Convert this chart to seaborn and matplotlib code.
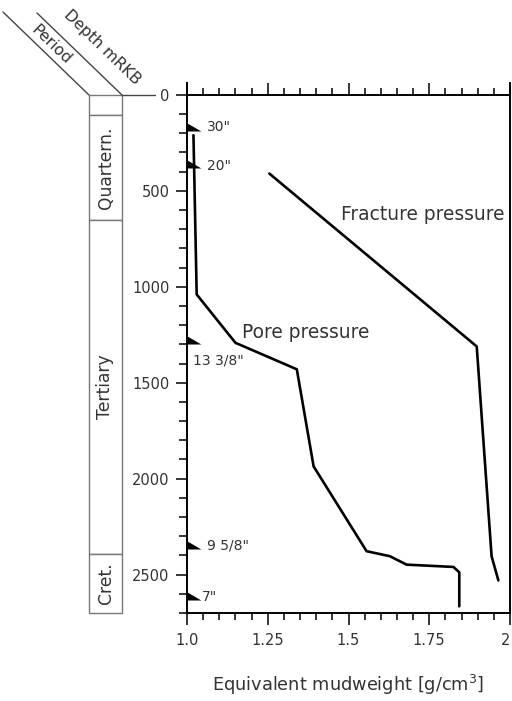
import numpy as np
import pandas as pd
import matplotlib
matplotlib.use("Agg")
import matplotlib.pyplot as plt
from matplotlib.lines import Line2D
from matplotlib.ticker import MultipleLocator, FixedLocator, FixedFormatter
import seaborn as sns

# ---- data -------------------------------------------------------------
pore_depth = [210, 1040, 1292, 1430, 1936, 2378, 2404, 2448, 2460, 2488, 2665]
pore_emw = [1.02, 1.03, 1.15, 1.34, 1.392, 1.556, 1.628, 1.68, 1.825, 1.843, 1.843]

frac_depth = [410, 1311, 2404, 2530]
frac_emw = [1.255, 1.897, 1.943, 1.964]

casing_labels = ['30"', '20"', '13 3/8"', '9 5/8"', '7"']
casing_depths = [187, 380, 1297, 2365, 2630]

period_names = ["", "Quartern.", "Tertiary", "Cret."]
period_tops = [0, 104, 651, 2390]
period_bases = [104, 651, 2390, 2700]

x_ticks = [1.0, 1.25, 1.5, 1.75, 2.0]
x_tick_labels = ["1.0", "1.25", "1.5", "1.75", "2"]
depth_ticks = [0, 500, 1000, 1500, 2000, 2500]

# ---- figure -----------------------------------------------------------
sns.set_theme(style="white")
plt.rcParams["font.family"] = ["DejaVu Sans"]
TXT = "#333333"

W, H, DPI = 512, 701, 100
fig = plt.figure(figsize=(W / DPI, H / DPI), dpi=DPI)

def fx(px):
    return px / W

def fy(py):
    return 1 - py / H

ax = fig.add_axes([fx(187), fy(613), fx(510) - fx(187), fy(83) - fy(613)])
ax.set_xlim(1.0, 2.0)
ax.set_ylim(2700, -62)

pore = pd.DataFrame({"emw": pore_emw, "depth": pore_depth})
frac = pd.DataFrame({"emw": frac_emw, "depth": frac_depth})
sns.lineplot(data=pore, x="emw", y="depth", sort=False, estimator=None,
             color="black", lw=1.9, ax=ax)
sns.lineplot(data=frac, x="emw", y="depth", sort=False, estimator=None,
             color="black", lw=1.9, ax=ax)

# casing shoes: right-angled triangles sitting on the depth axis
shoe = [(0, 0), (0, 0.58), (1, 0), (0, 0)]
shoes = pd.DataFrame({"emw": [1.0] * len(casing_depths), "depth": casing_depths})
sns.scatterplot(data=shoes, x="emw", y="depth", marker=shoe, s=400,
                color="black", linewidth=0, clip_on=False, zorder=5, ax=ax)

label_offsets = [(20, 4), (20, 2), (6, -17), (20, 3), (15, 3)]
for lab, d, off in zip(casing_labels, casing_depths, label_offsets):
    ax.annotate(lab, xy=(1.0, d), xytext=off, textcoords="offset pixels",
                ha="left", va="center", fontsize=10, color=TXT)

ax.text(1.477, 625, "Fracture pressure", ha="left", va="center",
        fontsize=13.4, color=TXT)
ax.text(1.170, 1240, "Pore pressure", ha="left", va="center",
        fontsize=13.4, color=TXT)

# axes frame and ticks
for side in ["left", "right", "bottom", "top"]:
    ax.spines[side].set_visible(True)
    ax.spines[side].set_color("black")
    ax.spines[side].set_linewidth(1.4)
ax.spines["top"].set_position(("data", 0))

ax.xaxis.set_major_locator(FixedLocator(x_ticks))
ax.xaxis.set_major_formatter(FixedFormatter(x_tick_labels))
ax.xaxis.set_minor_locator(MultipleLocator(0.05))
ax.yaxis.set_major_locator(FixedLocator(depth_ticks))
ax.yaxis.set_minor_locator(MultipleLocator(100))
ax.xaxis.set_ticks_position("both")
ax.tick_params(axis="x", which="both", direction="out", top=True, bottom=True,
               labeltop=False, color="black", width=1.1)
ax.tick_params(axis="x", which="major", length=8.6, pad=5.5,
               labelsize=10.5, labelcolor=TXT)
ax.tick_params(axis="x", which="minor", length=5)
ax.tick_params(axis="y", which="both", direction="out", left=True, right=False,
               color="black", width=1.1)
ax.tick_params(axis="y", which="major", length=8.2, pad=4.3,
               labelsize=10.5, labelcolor=TXT)
ax.tick_params(axis="y", which="minor", length=5.5)
ax.set_xlabel("Equivalent mudweight [g/cm$^3$]", fontsize=12.8, color=TXT,
              labelpad=18)
ax.set_ylabel("")
ax.grid(False)
# keep the last tick label inside the figure edge
ax.get_xticklabels()[-1].set_horizontalalignment("right")

# geological period column
pax = fig.add_axes([fx(89), fy(613), fx(122) - fx(89), fy(83) - fy(613)],
                   sharey=ax)
pax.set_xlim(0, 1)
pax.axis("off")
centers = [(t + b) / 2 for t, b in zip(period_tops, period_bases)]
heights = [b - t for t, b in zip(period_tops, period_bases)]
bars = pax.barh(y=centers, width=1, height=heights, left=0, color="white",
                edgecolor="#777777", linewidth=1.0)
for b in bars:
    b.set_clip_on(False)
for name, c in zip(period_names, centers):
    pax.text(0.5, c, name, rotation=90, ha="center", va="center",
             fontsize=12.3, color=TXT)

# slanted header over the period and depth columns
for (x0, y0, x1, y1) in [(89, 95, 3, 12), (122, 95, 37, 13), (122, 95, 155, 95)]:
    fig.add_artist(Line2D([fx(x0), fx(x1)], [fy(y0), fy(y1)],
                          color="#444444", lw=1.0))
fig.text(fx(51), fy(45), "Period", rotation=-44, ha="center", va="center",
         fontsize=11.3, color=TXT, rotation_mode="anchor")
fig.text(fx(102), fy(47), "Depth mRKB", rotation=-44, ha="center", va="center",
         fontsize=11.3, color=TXT, rotation_mode="anchor")

fig.savefig("out.png", dpi=DPI)
